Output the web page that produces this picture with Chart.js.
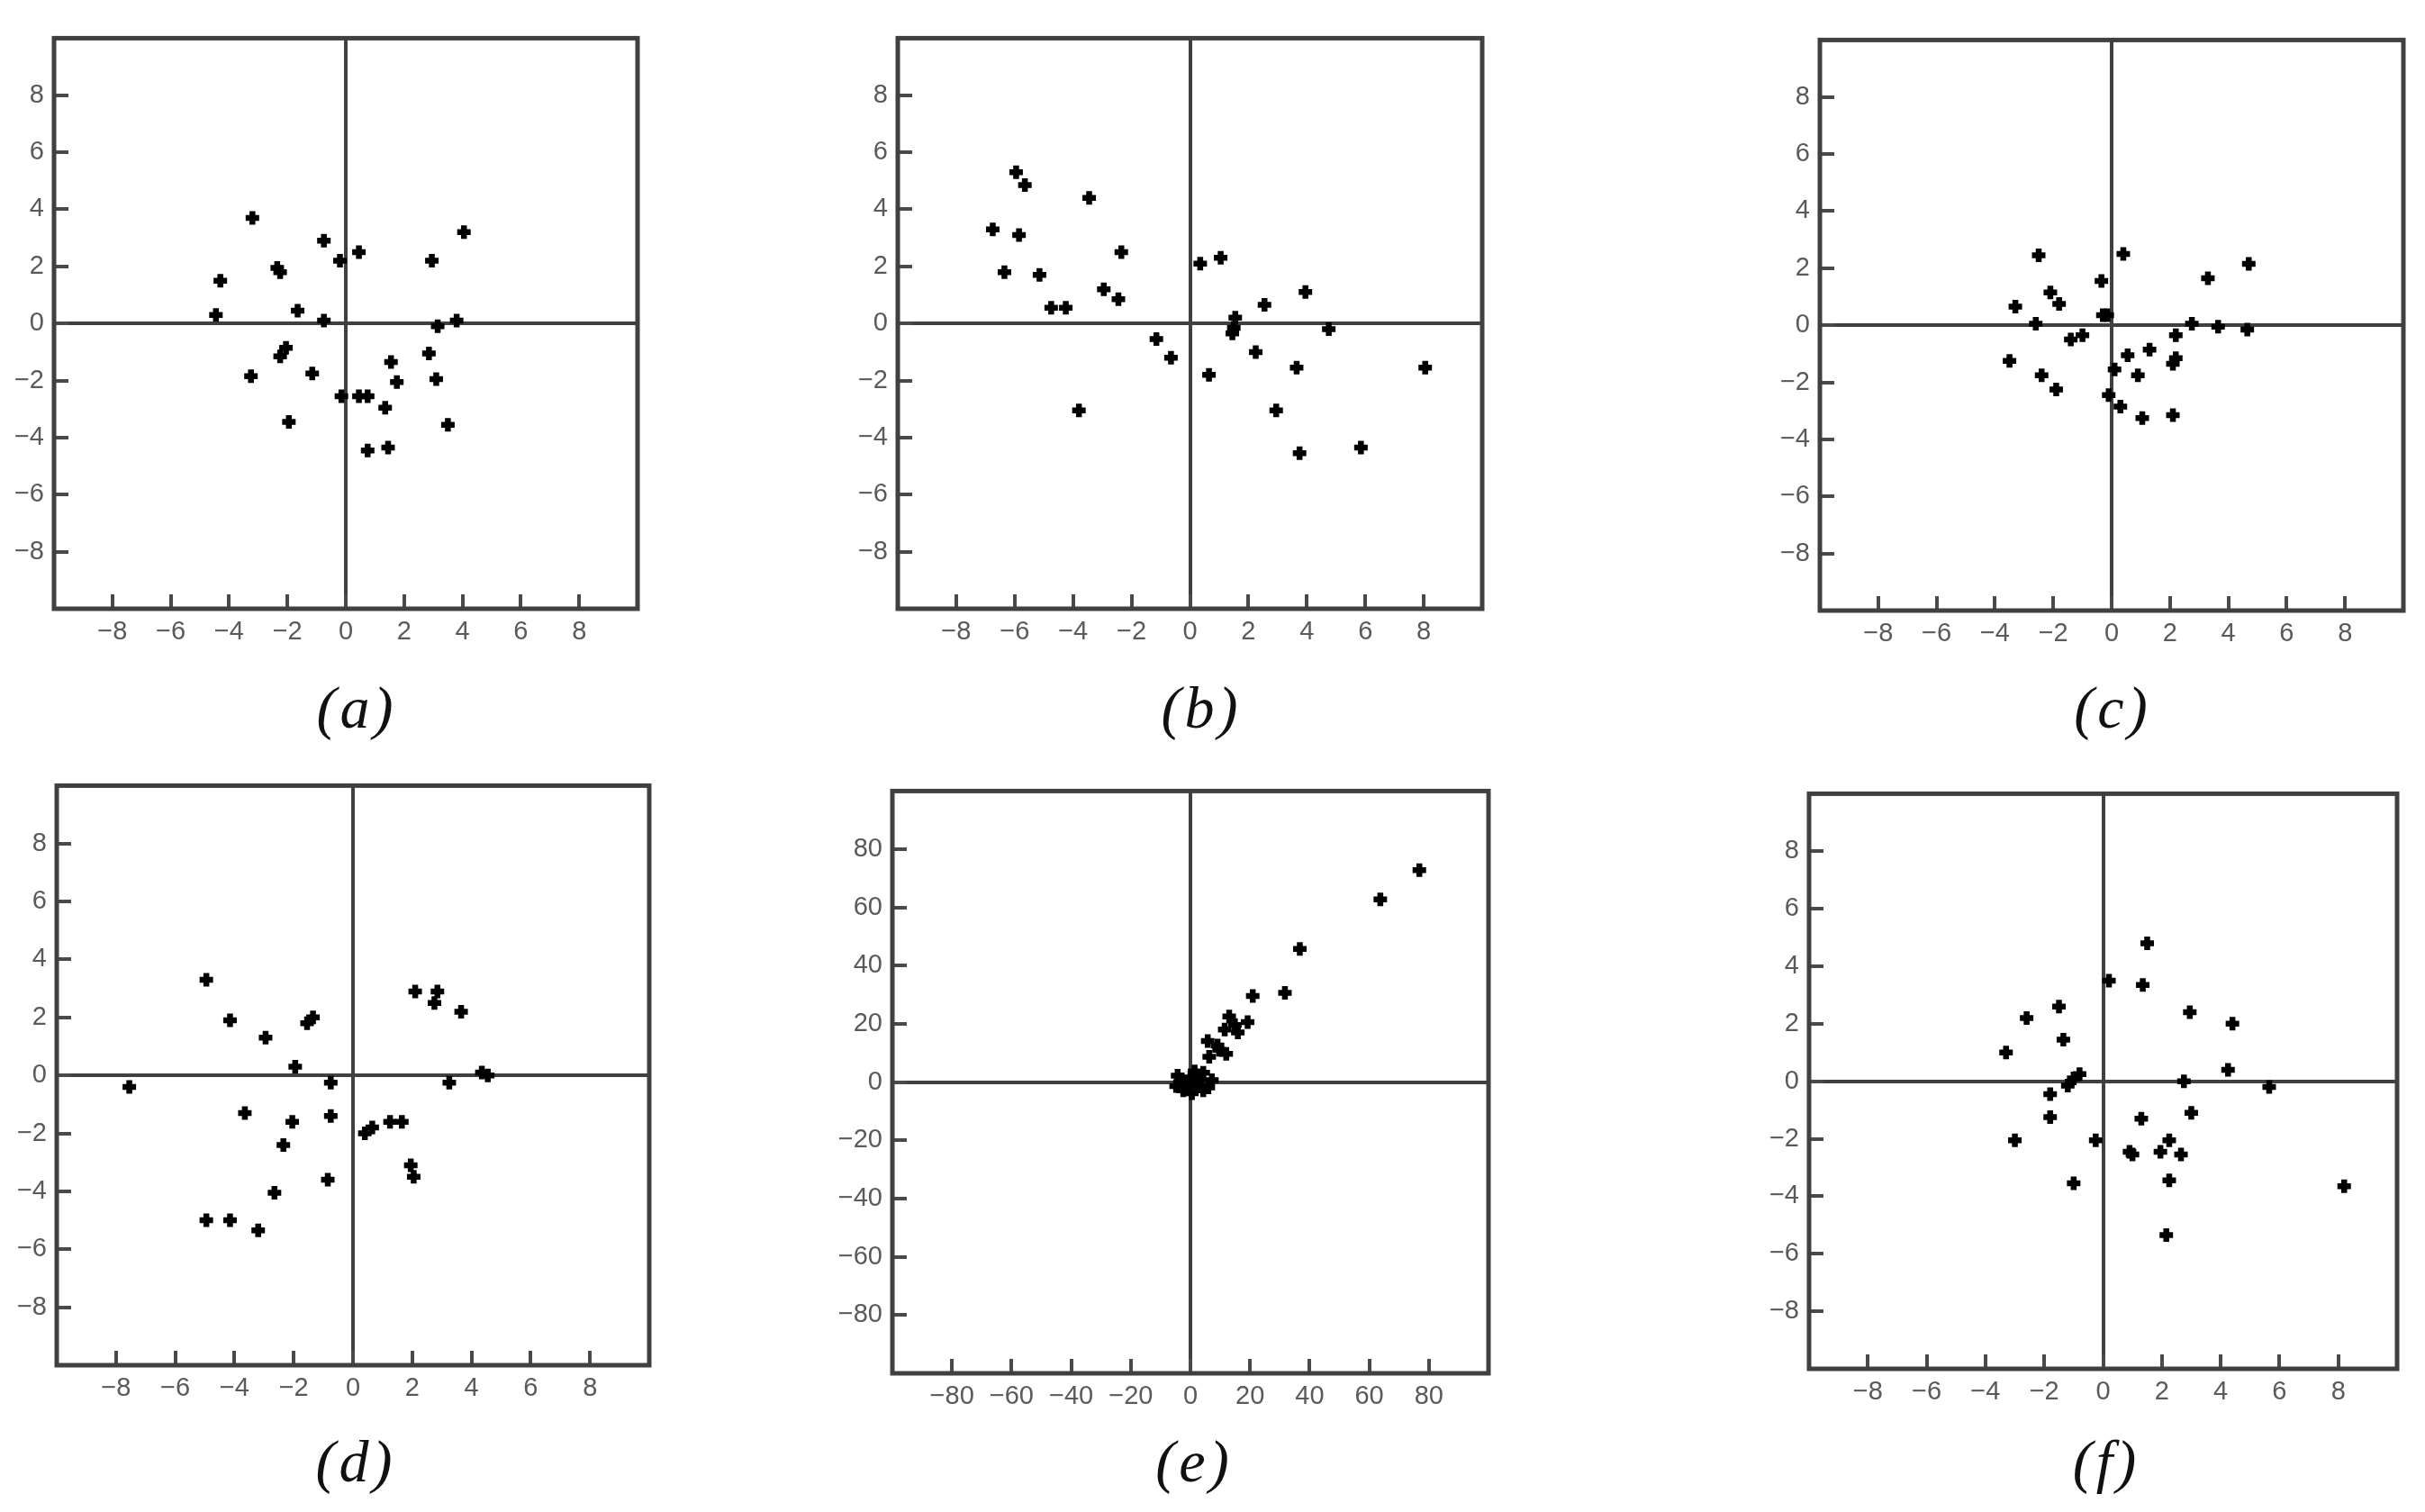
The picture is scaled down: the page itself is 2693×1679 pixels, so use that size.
<!DOCTYPE html>
<html>
<head>
<meta charset="utf-8">
<script src="https://cdn.jsdelivr.net/npm/chart.js@4.4.1/dist/chart.umd.min.js"></script>
<style>
html, body { margin: 0; padding: 0; background: #fff; }
body { width: 2693px; height: 1679px; position: relative; overflow: hidden; }
.panel { position: absolute; }
.cap { position: absolute; font-family: "Liberation Serif", "DejaVu Serif", serif; font-style: italic; font-size: 66px; line-height: 1; color: #111; transform: translate(-50%, -50%); letter-spacing: 4px; white-space: nowrap; }
</style>
</head>
<body>
<script>
// ---- data ----
const panelLabels = ["(a)", "(b)", "(c)", "(d)", "(e)", "(f)"];
const smallTicks = [-8, -6, -4, -2, 0, 2, 4, 6, 8];
const bigTicks = [-80, -60, -40, -20, 0, 20, 40, 60, 80];

const aX = [-3.2, -0.75, 0.45, -0.2, 4.05, 2.95, -2.35, -2.25, -4.3, -4.45, -1.65, -0.75, 3.8, 3.15, -2.05, -2.25, -3.25, -1.15, 2.85, 1.55, 1.75, 3.1, -0.15, 0.45, 0.75, 1.35, -1.95, 3.5, 0.75, 1.45];
const aY = [3.7, 2.9, 2.5, 2.2, 3.2, 2.2, 1.95, 1.8, 1.5, 0.3, 0.45, 0.1, 0.1, -0.1, -0.85, -1.15, -1.85, -1.75, -1.05, -1.35, -2.05, -1.95, -2.55, -2.55, -2.55, -2.95, -3.45, -3.55, -4.45, -4.35];

const bX = [-5.95, -5.65, -3.45, -6.75, -5.85, -2.35, -6.35, -5.15, -2.95, -2.45, -4.75, -4.25, -1.15, -0.65, -3.8, 0.35, 1.05, 3.95, 2.55, 1.55, 1.45, 1.5, 4.75, 2.25, 0.65, 3.65, 8.05, 2.95, 3.75, 5.85];
const bY = [5.3, 4.85, 4.4, 3.3, 3.1, 2.5, 1.8, 1.7, 1.2, 0.85, 0.55, 0.55, -0.55, -1.2, -3.05, 2.1, 2.3, 1.1, 0.65, 0.2, -0.35, -0.15, -0.2, -1.0, -1.8, -1.55, -1.55, -3.05, -4.55, -4.35];

const cX = [-2.5, 0.4, 4.7, 3.3, -0.35, -2.1, -1.8, -3.3, -0.15, -2.6, 2.75, 3.65, 4.65, -1.4, -1.0, 2.2, 1.3, 0.55, 2.2, 2.1, -3.5, -2.4, 0.1, 0.9, -1.9, -0.1, 0.3, 1.05, 2.1, -0.3];
const cY = [2.45, 2.5, 2.15, 1.65, 1.55, 1.15, 0.75, 0.65, 0.35, 0.05, 0.05, -0.05, -0.15, -0.5, -0.35, -0.35, -0.85, -1.05, -1.15, -1.35, -1.25, -1.75, -1.55, -1.75, -2.25, -2.45, -2.85, -3.25, -3.15, 0.35];

const dX = [-4.95, -4.15, -2.95, -1.55, -1.35, -1.95, -7.55, -0.75, -3.65, -2.05, -0.75, -2.35, -0.85, -2.65, -4.95, -4.15, -3.2, 2.1, 2.85, 2.75, 3.65, 4.35, 4.55, 3.25, 0.4, 0.65, 1.25, 1.65, 1.95, 2.05];
const dY = [3.3, 1.9, 1.3, 1.8, 2.0, 0.3, -0.4, -0.25, -1.3, -1.6, -1.4, -2.4, -3.6, -4.05, -5.0, -5.0, -5.35, 2.9, 2.9, 2.5, 2.2, 0.1, 0.0, -0.25, -2.0, -1.8, -1.6, -1.6, -3.1, -3.5];

const eX = [76.8, 63.7, 36.7, 31.7, 20.9, 13.0, 14.9, 19.2, 15.9, 11.5, 5.8, 9.1, 12.0, 6.3, 9.6, -4.3, 1.4, 4.3, 7.2, -2.4, 0.5, 4.3, -4.8, -1.4, 2.4, -3.0, 0.0, 3.0, -1.0, 6.0];
const eY = [72.8, 62.8, 45.8, 30.7, 29.6, 22.6, 19.6, 20.6, 17.1, 18.1, 14.1, 12.6, 9.7, 8.7, 11.1, 2.2, 3.7, 3.2, 0.7, -2.8, -3.8, -2.8, -1.3, 0.2, -0.8, 1.0, 1.5, 1.2, -1.5, -1.8];

const fX = [1.5, 0.2, 1.35, -1.5, -2.6, 2.95, 4.4, -1.35, -3.3, -0.8, -1.0, -1.2, 4.25, 2.75, 5.65, -1.8, -1.8, -3.0, -0.25, -1.0, 1.3, 3.0, 2.25, 0.9, 1.0, 1.95, 2.65, 2.25, 2.15, 8.2];
const fY = [4.8, 3.5, 3.35, 2.6, 2.2, 2.4, 2.0, 1.45, 1.0, 0.25, 0.1, -0.15, 0.4, 0.0, -0.2, -0.45, -1.25, -2.05, -2.05, -3.55, -1.3, -1.1, -2.05, -2.45, -2.55, -2.45, -2.55, -3.45, -5.35, -3.65];

// ---- layout (plot box in page pixels) ----
const boxes = [
  {L: 60, T: 20, R: 716, B: 676},
  {L: 997, T: 20, R: 1654, B: 676},
  {L: 2021, T: 22, R: 2677, B: 678},
  {L: 63, T: 850, R: 729, B: 1516},
  {L: 991, T: 856, R: 1661, B: 1525},
  {L: 2009, T: 859, R: 2670, B: 1520}
];
const capPos = [[396, 786], [1334, 786], [2346, 786], [395, 1623], [1326, 1623], [2339, 1623]];

const panels = [
  {xs: aX, ys: aY, lim: 10, ticks: smallTicks},
  {xs: bX, ys: bY, lim: 10, ticks: smallTicks},
  {xs: cX, ys: cY, lim: 10, ticks: smallTicks},
  {xs: dX, ys: dY, lim: 10, ticks: smallTicks},
  {xs: eX, ys: eY, lim: 100, ticks: bigTicks},
  {xs: fX, ys: fY, lim: 10, ticks: smallTicks}
];

const YW = 80, XH = 60, PAD = 6;
const TICK_LEN = 16;
const LINE = '#404040';

const fmt = v => (v < 0 ? '\u2212' + Math.abs(v) : String(v));

const framePlugin = {
  id: 'frame',
  afterDraw(chart) {
    const {ctx, chartArea: a} = chart;
    const xs = chart.scales.x, ys = chart.scales.y;
    ctx.save();
    ctx.strokeStyle = '#4a4a4a';
    ctx.lineWidth = 4;
    xs.ticks.forEach(t => {
      const p = Math.round(xs.getPixelForValue(t.value));
      ctx.beginPath(); ctx.moveTo(p, a.bottom); ctx.lineTo(p, a.bottom - TICK_LEN); ctx.stroke();
    });
    ys.ticks.forEach(t => {
      const p = Math.round(ys.getPixelForValue(t.value));
      ctx.beginPath(); ctx.moveTo(a.left, p); ctx.lineTo(a.left + TICK_LEN, p); ctx.stroke();
    });
    ctx.strokeStyle = LINE;
    ctx.lineWidth = 5;
    ctx.strokeRect(a.left, a.top, a.right - a.left, a.bottom - a.top);
    ctx.restore();
  }
};

panels.forEach((p, i) => {
  const b = boxes[i];
  const div = document.createElement('div');
  div.className = 'panel';
  const w = (b.R - b.L) + YW + PAD;
  const h = (b.B - b.T) + XH + PAD;
  div.style.left = (b.L - YW) + 'px';
  div.style.top = (b.T - PAD) + 'px';
  div.style.width = w + 'px';
  div.style.height = h + 'px';
  const cv = document.createElement('canvas');
  cv.width = w; cv.height = h;
  div.appendChild(cv);
  document.body.appendChild(div);

  const cap = document.createElement('div');
  cap.className = 'cap';
  cap.textContent = panelLabels[i];
  cap.style.left = capPos[i][0] + 'px';
  cap.style.top = capPos[i][1] + 'px';
  document.body.appendChild(cap);

  const tickFont = {family: '"Liberation Sans", Arial, sans-serif', size: 29};
  const axisCommon = (isX) => ({
    type: 'linear',
    min: -p.lim, max: p.lim,
    afterBuildTicks: s => { s.ticks = p.ticks.map(v => ({value: v})); },
    afterFit: s => { if (isX) s.height = XH; else s.width = YW; },
    grid: {
      color: c => (c.tick && c.tick.value === 0) ? LINE : 'rgba(0,0,0,0)',
      lineWidth: 4,
      drawTicks: false
    },
    border: {display: false},
    ticks: {
      callback: v => fmt(v),
      color: '#5a5a5a',
      font: tickFont,
      padding: isX ? 9 : 11,
      autoSkip: false,
      maxRotation: 0
    }
  });

  new Chart(cv.getContext('2d'), {
    type: 'scatter',
    data: {
      datasets: [{
        data: p.xs.map((x, k) => ({x: x, y: p.ys[k]})),
        pointStyle: 'cross',
        pointRadius: 7.5,
        pointBorderWidth: 6.5,
        borderColor: '#000',
        backgroundColor: '#000'
      }]
    },
    options: {
      responsive: false,
      animation: false,
      devicePixelRatio: 1,
      layout: {padding: {top: PAD, right: PAD, left: 0, bottom: 0}},
      plugins: {legend: {display: false}, tooltip: {enabled: false}},
      scales: {x: axisCommon(true), y: axisCommon(false)}
    },
    plugins: [framePlugin]
  });
});
</script>
</body>
</html>
